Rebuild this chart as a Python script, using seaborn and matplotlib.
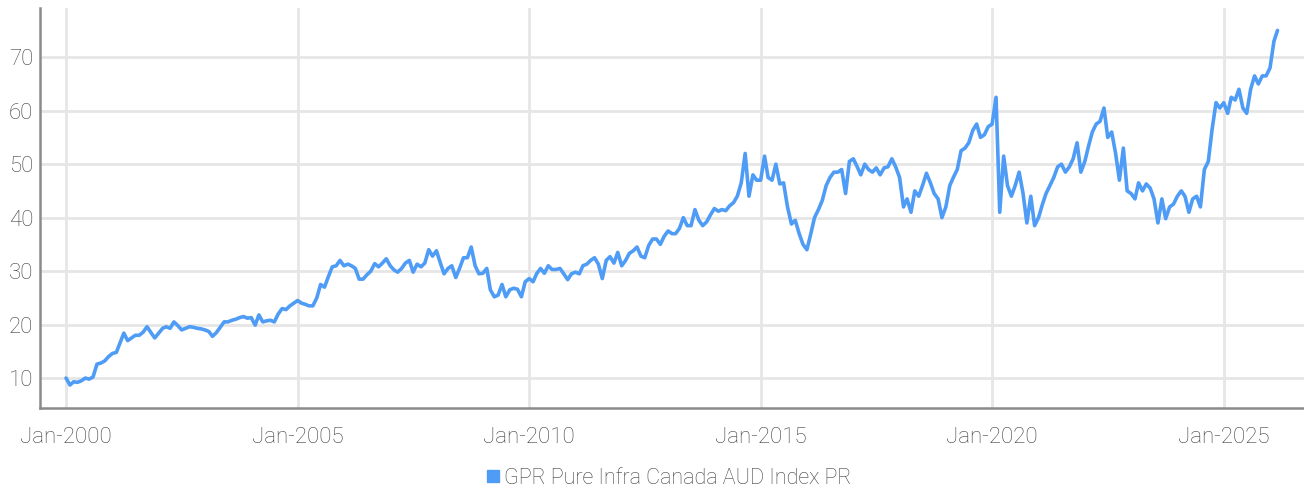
import matplotlib
matplotlib.use("Agg")
import matplotlib.dates as mdates
import matplotlib.pyplot as plt
from matplotlib.lines import Line2D
import pandas as pd
import seaborn as sns

SERIES_NAME = "GPR Pure Infra Canada AUD Index PR"
START_MONTH = "2000-01-01"

# month-end index levels (Jan-2000 .. Mar-2026)
index_level = [
    10.0, 8.7, 9.3, 9.2, 9.5, 10.0, 9.8, 10.2, 12.6, 12.8, 13.2, 14.0,    # 2000
    14.6, 14.8, 16.5, 18.4, 17.0, 17.5, 18.0, 18.0, 18.6, 19.6, 18.5, 17.5,  # 2001
    18.4, 19.3, 19.6, 19.3, 20.5, 19.8, 19.0, 19.3, 19.6, 19.5, 19.3, 19.2,  # 2002
    19.0, 18.7, 17.8, 18.5, 19.5, 20.5, 20.5, 20.8, 21.0, 21.3, 21.5, 21.2,  # 2003
    21.3, 19.9, 21.8, 20.5, 20.7, 20.8, 20.5, 22.0, 23.0, 22.8, 23.5, 24.0,  # 2004
    24.5, 24.0, 23.8, 23.5, 23.5, 25.0, 27.5, 27.0, 29.0, 30.8, 31.0, 32.0,  # 2005
    31.0, 31.3, 31.0, 30.5, 28.5, 28.5, 29.3, 30.0, 31.4, 30.8, 31.5, 32.3,  # 2006
    31.0, 30.2, 29.8, 30.5, 31.5, 32.0, 29.8, 31.3, 30.8, 31.5, 34.0, 32.8,  # 2007
    33.8, 31.5, 29.5, 30.5, 31.0, 28.8, 30.5, 32.5, 32.5, 34.5, 31.0, 29.5,  # 2008
    29.6, 30.5, 26.5, 25.2, 25.5, 27.5, 25.2, 26.5, 26.8, 26.6, 25.2, 28.0,  # 2009
    28.6, 28.0, 29.5, 30.5, 29.6, 31.0, 30.3, 30.3, 30.5, 29.5, 28.4, 29.5,  # 2010
    29.8, 29.5, 31.0, 31.3, 32.0, 32.5, 31.3, 28.6, 32.0, 32.7, 31.5, 33.5,  # 2011
    31.0, 32.0, 33.3, 33.8, 34.5, 32.8, 32.5, 34.8, 36.0, 36.0, 35.0, 36.5,  # 2012
    37.5, 37.0, 37.0, 38.0, 40.0, 38.5, 38.5, 41.5, 39.5, 38.5, 39.2, 40.5,  # 2013
    41.7, 41.2, 41.5, 41.3, 42.2, 42.8, 44.0, 46.5, 52.0, 44.0, 48.0, 47.0,  # 2014
    47.0, 51.5, 47.5, 47.0, 50.0, 46.3, 46.5, 42.0, 38.8, 39.5, 37.0, 35.0,  # 2015
    34.0, 37.0, 40.0, 41.5, 43.2, 46.0, 47.5, 48.5, 48.5, 49.0, 44.5, 50.5,  # 2016
    51.0, 49.5, 48.0, 50.0, 49.0, 48.5, 49.3, 48.0, 49.3, 49.5, 51.0, 49.5,  # 2017
    47.5, 42.0, 43.5, 41.0, 45.0, 44.0, 46.0, 48.3, 46.5, 44.5, 43.5, 40.0,  # 2018
    42.0, 46.0, 47.5, 49.0, 52.5, 53.0, 54.0, 56.3, 57.5, 55.0, 55.5, 57.0,  # 2019
    57.5, 62.5, 41.0, 51.5, 46.0, 44.0, 46.0, 48.5, 44.5, 39.0, 44.0, 38.5,  # 2020
    40.0, 42.5, 44.5, 46.0, 47.5, 49.5, 50.0, 48.5, 49.5, 51.0, 54.0, 48.5,  # 2021
    50.5, 53.5, 56.0, 57.5, 58.0, 60.5, 55.0, 56.0, 52.0, 47.0, 53.0, 45.0,  # 2022
    44.5, 43.5, 46.5, 45.0, 46.3, 45.5, 43.5, 39.0, 43.5, 39.8, 42.0, 42.5,  # 2023
    44.0, 45.0, 44.0, 41.0, 43.5, 44.0, 42.0, 49.0, 50.5, 56.5, 61.5, 60.5,  # 2024
    61.5, 59.5, 62.5, 62.0, 64.0, 60.5, 59.5, 64.0, 66.5, 65.0, 66.5, 66.5,  # 2025
    68.0, 73.0, 75.0,                                                      # 2026
]
y_ticks = [10, 20, 30, 40, 50, 60, 70]
x_tick_years = [2000, 2005, 2010, 2015, 2020, 2025]

LINE_COLOR = "#4f9cf6"
GRID_COLOR = "#e6e6e6"
SPINE_COLOR = "#8a8a8a"
TEXT_COLOR = "#404040"

df = pd.DataFrame({
    "date": pd.date_range(START_MONTH, periods=len(index_level), freq="MS"),
    "value": index_level,
})

sns.set_theme(style="whitegrid")
plt.rcParams["font.family"] = ["Roboto", "DejaVu Sans"]
plt.rcParams["font.weight"] = "light"

fig = plt.figure(figsize=(13.04, 4.93), dpi=100)
ax = fig.add_axes([0.0307, 0.1724, 0.9693, 0.8114])

sns.lineplot(data=df, x="date", y="value", ax=ax, color=LINE_COLOR, linewidth=2.6)

ax.set_xlim(pd.Timestamp("1999-06-10"), pd.Timestamp("2026-09-26"))
ax.set_ylim(4.4, 79.2)
ax.set_yticks(y_ticks)
ax.set_xticks([pd.Timestamp(f"{y}-01-01") for y in x_tick_years])
ax.xaxis.set_major_formatter(mdates.DateFormatter("%b-%Y"))
ax.set_xlabel("")
ax.set_ylabel("")

ax.grid(True, color=GRID_COLOR, linewidth=2)
ax.tick_params(axis="both", length=0, labelsize=16, labelcolor=TEXT_COLOR)
ax.tick_params(axis="y", pad=5)
ax.tick_params(axis="x", pad=14)
for lbl in ax.get_xticklabels() + ax.get_yticklabels():
    lbl.set_fontweight("light")

for side in ["top", "right"]:
    ax.spines[side].set_visible(False)
for side in ["left", "bottom"]:
    ax.spines[side].set_color(SPINE_COLOR)
    ax.spines[side].set_linewidth(1.8)

handle = Line2D([], [], linestyle="none", marker="s", markersize=8,
                markerfacecolor=LINE_COLOR, markeredgecolor=LINE_COLOR)
leg = fig.legend([handle], [SERIES_NAME], loc="center", bbox_to_anchor=(0.512, 0.03),
                 frameon=False, fontsize=15.5, labelcolor=TEXT_COLOR,
                 handletextpad=0.1, handlelength=0.8)
for txt in leg.get_texts():
    txt.set_fontweight("light")

fig.savefig("out.png", dpi=100)
